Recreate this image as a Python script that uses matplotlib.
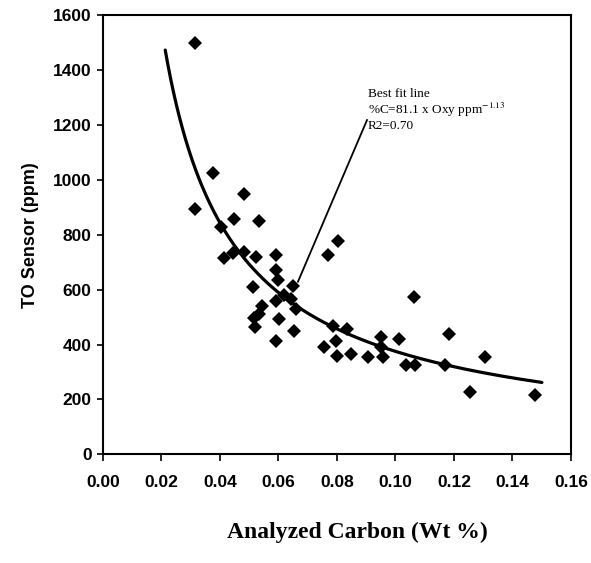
import numpy as np
import matplotlib.pyplot as plt

# measured points: analyzed carbon (wt %) vs TO sensor (ppm)
carbon = [0.0315, 0.0377, 0.0483, 0.0315, 0.0449, 0.0535, 0.0404, 0.0415,
          0.0445, 0.0483, 0.0524, 0.0593, 0.0593, 0.0600, 0.0514, 0.0593,
          0.0650, 0.0620, 0.0644, 0.0545, 0.0535, 0.0517, 0.0520, 0.0603,
          0.0654, 0.0593, 0.0660, 0.0771, 0.0805, 0.0757, 0.0788, 0.0833,
          0.0798, 0.0800, 0.0850, 0.0908, 0.0952, 0.0959, 0.0952, 0.1014,
          0.1038, 0.1066, 0.1065, 0.1185, 0.1168, 0.1305, 0.1254, 0.1477]
sensor = [1500, 1025, 950, 895, 856, 849, 827, 716,
          734, 737, 719, 727, 673, 637, 608, 558,
          612, 580, 565, 540, 512, 495, 464, 493,
          450, 414, 529, 727, 778, 392, 468, 457,
          414, 360, 367, 356, 428, 356, 392, 421,
          324, 324, 572, 439, 324, 356, 227, 216]

# best fit: %C = a * Oxy^b
fit_a = 81.1
fit_b = -1.13
fit_oxy_range = [262, 1473]

x_ticks = [0.00, 0.02, 0.04, 0.06, 0.08, 0.10, 0.12, 0.14, 0.16]
x_ticklabels = ['0.00', '0.02', '0.04', '0.06', '0.08', '0.10', '0.12', '0.14', '0.16']
y_ticks = [0, 200, 400, 600, 800, 1000, 1200, 1400, 1600]

plt.rcParams['mathtext.fontset'] = 'stix'

fig = plt.figure(figsize=(5.91, 5.63), dpi=100)
ax = fig.add_axes([0.174, 0.193, 0.792, 0.78])

oxy = np.linspace(fit_oxy_range[0], fit_oxy_range[1], 200)
ax.plot(fit_a * oxy ** fit_b, oxy, color='black', lw=2.3, solid_capstyle='round')
ax.plot(carbon, sensor, 'D', color='black', ms=7, mew=0)

# leader line to the annotation
ax.plot([0.0667, 0.0903], [629, 1218], color='black', lw=1.3)
ax.text(0.0905, 1312, 'Best fit line', fontsize=9.5, family='Liberation Serif', va='center')
ax.text(0.0905, 1256, '%C=81.1 x Oxy ppm$^{-1.13}$', fontsize=9.5, family='Liberation Serif', va='center')
ax.text(0.0905, 1196, 'R2=0.70', fontsize=9.5, family='Liberation Serif', va='center')

ax.set_xlim(0, 0.16)
ax.set_ylim(0, 1600)
ax.set_xticks(x_ticks)
ax.set_xticklabels(x_ticklabels)
ax.set_yticks(y_ticks)
for s in ax.spines.values():
    s.set_linewidth(1.5)
ax.tick_params(axis='both', direction='out', width=1.2, labelsize=12.5)
ax.tick_params(axis='x', length=5, pad=10)
ax.tick_params(axis='y', length=4, pad=4)
for lab in ax.get_xticklabels() + ax.get_yticklabels():
    lab.set_family('Liberation Sans')
    lab.set_fontweight('bold')

ax.set_ylabel('TO Sensor (ppm)', fontsize=13, fontweight='bold', family='Liberation Sans', labelpad=10)
fig.text(0.604, 0.055, 'Analyzed Carbon (Wt %)', fontsize=17, fontweight='bold',
         family='Liberation Serif', ha='center', va='center')

fig.savefig('out.png', dpi=100)
